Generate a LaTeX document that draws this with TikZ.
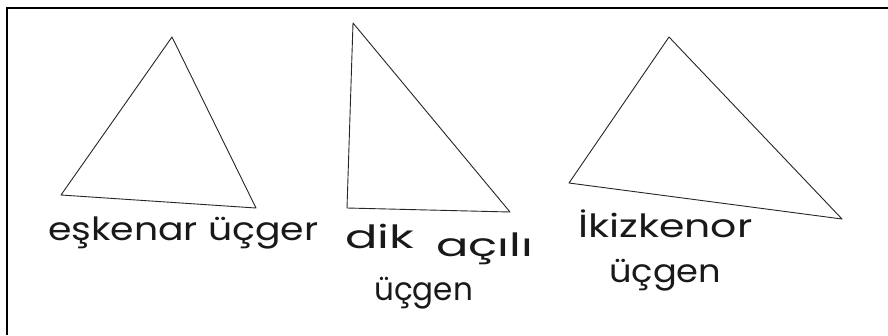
\documentclass[tikz,border=0pt]{standalone}
\usepackage{graphicx}
\usepackage{fontspec}
\setmainfont{Poppins}
\begin{document}
\begin{tikzpicture}[x=1pt,y=-1pt,
  edge/.style={draw=black!85,line width=0.9pt,line join=round},
  hand/.style={font=\fontsize{32}{36}\selectfont,text=black!90,inner sep=0pt,anchor=base west}]
\useasboundingbox (0,0) rectangle (888,335);
\fill[white] (0,0) rectangle (888,335);
\draw[line width=1.4pt] (7,335) -- (7,8) -- (888,8);
% triangle 1
\coordinate (a1) at (172,37);
\coordinate (b1) at (61,195);
\coordinate (c1) at (256,208);
\draw[edge] (a1) -- (b1) -- (c1) -- cycle;
% triangle 2
\coordinate (a2) at (353,23);
\coordinate (b2) at (347,208);
\coordinate (c2) at (510,212);
\draw[edge] (a2) -- (b2) -- (c2) -- cycle;
% triangle 3
\coordinate (a3) at (669,37);
\coordinate (b3) at (569,183);
\coordinate (c3) at (842,219);
\draw[edge] (a3) -- (b3) -- (c3) -- cycle;
% labels
\node[hand] (l1) at (48,240) {\scalebox{1.18}[1]{eşkenar üçger}};
\node[hand] (l2) at (345,248) {\scalebox{1.5}[1]{dik}};
\node[hand] (l3) at (436,256) {\scalebox{1.5}[1]{açılı}};
\node[hand] (l4) at (374,300) {\scalebox{0.97}[1]{üçgen}};
\node[hand] (l5) at (578,237) {\scalebox{1.28}[1]{İkizkenor}};
\node[hand] (l6) at (609,282) {\scalebox{1.1}[1]{üçgen}};
\end{tikzpicture}
\end{document}
